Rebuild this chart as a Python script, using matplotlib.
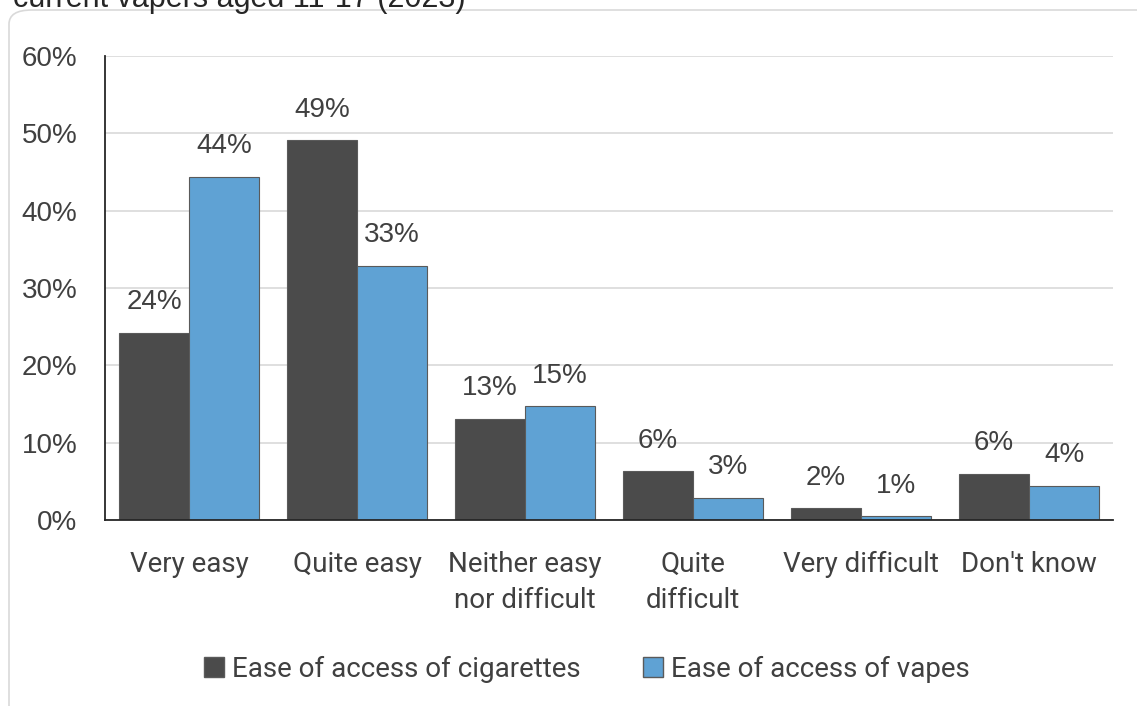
import matplotlib
matplotlib.use("Agg")
import matplotlib.pyplot as plt
from matplotlib.patches import FancyBboxPatch, Patch
import numpy as np

categories = ["Very easy", "Quite easy", "Neither easy\nnor difficult",
              "Quite\ndifficult", "Very difficult", "Don't know"]
cigarettes = [24.2, 49.1, 13.1, 6.3, 1.5, 6.0]
vapes = [44.4, 32.9, 14.7, 2.9, 0.5, 4.4]
cig_labels = ["24%", "49%", "13%", "6%", "2%", "6%"]
vape_labels = ["44%", "33%", "15%", "3%", "1%", "4%"]
series_names = ["Ease of access of cigarettes", "Ease of access of vapes"]
yticks = [0, 10, 20, 30, 40, 50, 60]

dark = "#4b4b4b"
blue = "#5fa2d4"
edge = "#5a5a5a"
text_c = "#404040"
num_font = "Liberation Sans"
cat_font = "Roboto"

W, H = 1137, 706
fig = plt.figure(figsize=(W / 100, H / 100), dpi=100)

# chart frame with rounded corners, extending past the right/bottom edge
frame = FancyBboxPatch((9 / W, -40 / H), (W + 40) / W, (H + 40 - 10) / H,
                       boxstyle="round,pad=0,rounding_size=0.02",
                       transform=fig.transFigure, facecolor="white",
                       edgecolor="#d9d9d9", linewidth=1.2, zorder=-5)
fig.patches.append(frame)

# title line sitting above the frame
fig.text(13 / W, 1 - 7 / H, "current vapers aged 11-17 (2023)",
         ha="left", va="baseline", fontsize=22, color="#262626",
         family=num_font)

ax = fig.add_axes([105 / W, 1 - 520 / H, (1113 - 105) / W, (520 - 56) / H])
ax.set_facecolor("none")

x = np.arange(len(categories))
bw = 0.4167
b1 = ax.bar(x - bw / 2, cigarettes, bw, color=dark, edgecolor=edge,
            linewidth=0.8, zorder=3)
b2 = ax.bar(x + bw / 2, vapes, bw, color=blue, edgecolor=edge,
            linewidth=0.8, zorder=3)

for bars, labels in ((b1, cig_labels), (b2, vape_labels)):
    for r, lab in zip(bars, labels):
        ax.annotate(lab, (r.get_x() + r.get_width() / 2, r.get_height()),
                    xytext=(0, 22), textcoords="offset points",
                    ha="center", va="center", fontsize=20, color=text_c,
                    family=num_font)

ax.set_xlim(-0.5, len(categories) - 0.5)
ax.set_ylim(0, 60)
ax.set_yticks(yticks)
ax.set_yticklabels([f"{v}%" for v in yticks], family=num_font,
                   fontsize=20, color=text_c)
ax.tick_params(axis="y", length=0, pad=20)
ax.set_xticks(x)
ax.set_xticklabels(categories, family=cat_font, fontsize=20, color=text_c,
                   linespacing=1.45)
ax.tick_params(axis="x", length=0, pad=22)

ax.yaxis.grid(True, color="#d9d9d9", linewidth=1.2, zorder=0)
ax.set_axisbelow(True)
for s in ("top", "right"):
    ax.spines[s].set_visible(False)
for s in ("left", "bottom"):
    ax.spines[s].set_color("#262626")
    ax.spines[s].set_linewidth(1.3)
    ax.spines[s].set_zorder(4)

handles = [Patch(facecolor=dark, edgecolor=edge, label=series_names[0]),
           Patch(facecolor=blue, edgecolor=edge, label=series_names[1])]
fig.legend(handles=handles, loc="center", ncol=2,
           bbox_to_anchor=(587 / W, 1 - 669 / H), frameon=False,
           prop={"family": cat_font, "size": 20}, labelcolor=text_c,
           handlelength=0.7, handleheight=0.7, handletextpad=0.3,
           columnspacing=2.25)

fig.savefig("out.png", dpi=100)
